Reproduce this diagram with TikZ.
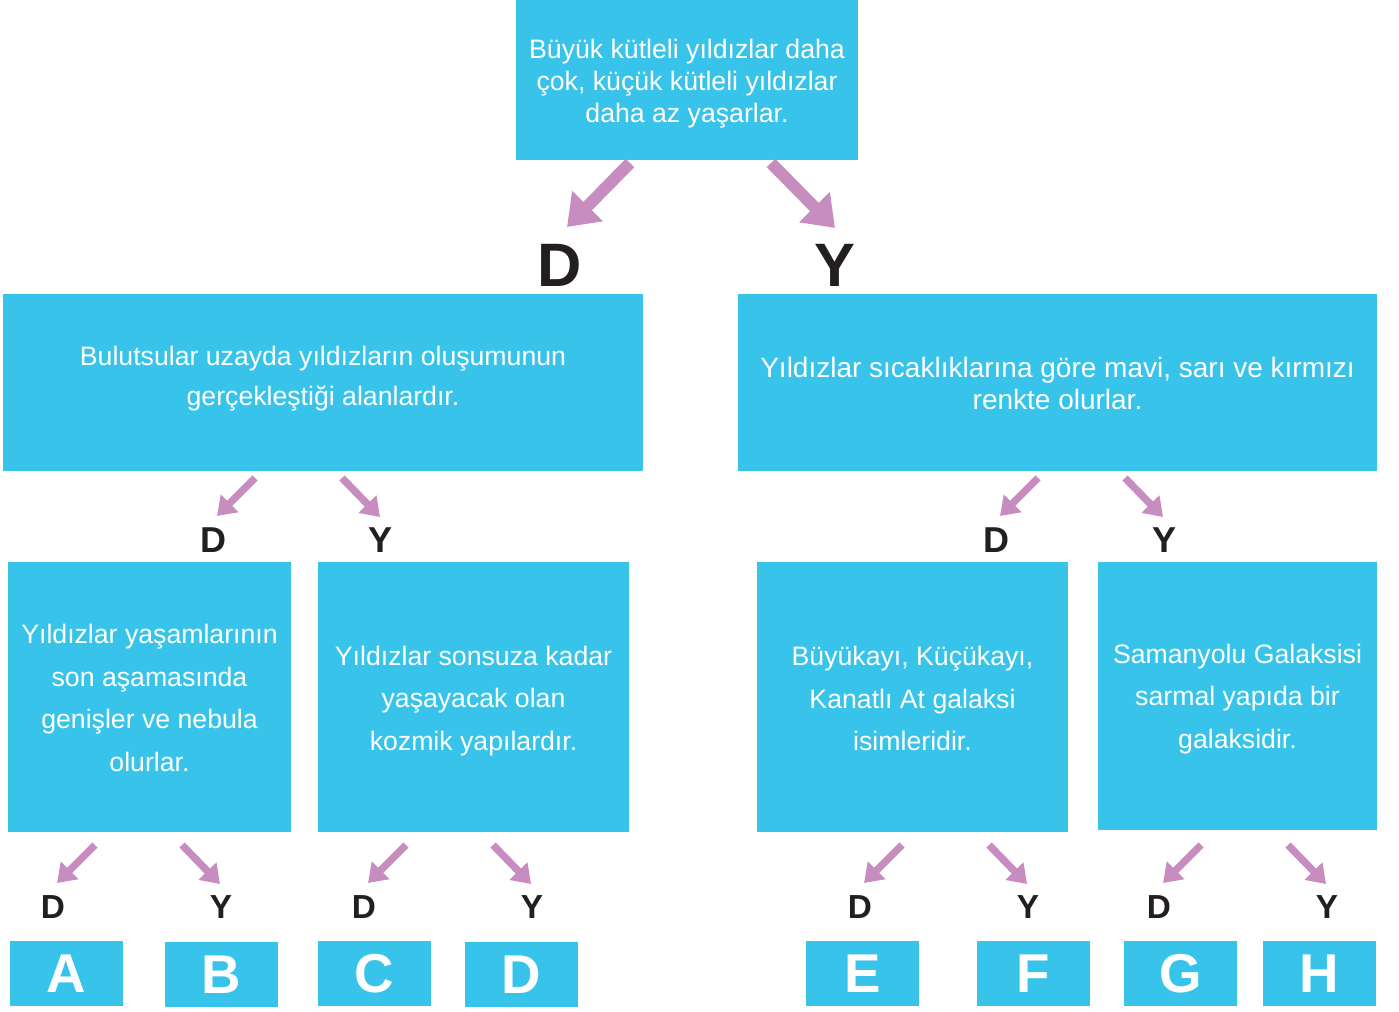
\documentclass[tikz,border=0pt]{standalone}
\usepackage{fontspec}
\setmainfont{Liberation Sans}
\usetikzlibrary{arrows.meta}

\definecolor{boxcyan}{HTML}{38C4EA}
\definecolor{arrowpink}{HTML}{C78DC0}
\definecolor{labelblack}{HTML}{231F20}

\tikzset{
  qbox/.style={rectangle, fill=boxcyan, inner sep=0pt},
  qtext/.style={text=white, inner sep=0pt, align=center, font=\fontsize{20}{24}\selectfont},
  ansbox/.style={rectangle, fill=boxcyan, text=white, inner sep=0pt, minimum width=113*0.75pt, minimum height=65*0.75pt, font=\fontsize{41}{41}\selectfont\bfseries},
  dylabel/.style={text=labelblack, inner sep=0pt},
  bigarrow/.style={draw=arrowpink, line width=9pt, -{Triangle[length=22pt,width=31pt]}},
  smallarrow/.style={draw=arrowpink, line width=5.5pt, -{Triangle[length=13.5pt,width=18pt]}}
}

\begin{document}
\begin{tikzpicture}[x=0.75pt,y=-0.75pt]
\useasboundingbox (0,0) rectangle (1399,1012);
% question boxes
\node[qbox, minimum width=342*0.75pt, minimum height=160*0.75pt] (top) at (687,80) {};
\node[qbox, minimum width=640*0.75pt, minimum height=177*0.75pt] (left) at (323,382.5) {};
\node[qbox, minimum width=639*0.75pt, minimum height=177*0.75pt] (right) at (1057.5,382.5) {};
\node[qbox, minimum width=283*0.75pt, minimum height=270*0.75pt] (leftd) at (149.5,697) {};
\node[qbox, minimum width=311*0.75pt, minimum height=270*0.75pt] (lefty) at (473.5,697) {};
\node[qbox, minimum width=311*0.75pt, minimum height=270*0.75pt] (rightd) at (912.5,697) {};
\node[qbox, minimum width=279*0.75pt, minimum height=268*0.75pt] (righty) at (1237.5,696) {};

% their texts
\node[qtext] (toptext) at (687,84) {Büyük kütleli yıldızlar daha\\çok, küçük kütleli yıldızlar\\daha az yaşarlar.};
\node[qtext, font=\fontsize{20}{30}\selectfont] (lefttext) at (323,378.5) {Bulutsular uzayda yıldızların oluşumunun\\gerçekleştiği alanlardır.};
\node[qtext, font=\fontsize{21}{24}\selectfont] (righttext) at (1057.5,383.5) {Yıldızlar sıcaklıklarına göre mavi, sarı ve kırmızı\\renkte olurlar.};
\node[qtext, font=\fontsize{20}{32}\selectfont] (leftdtext) at (149.5,698) {Yıldızlar yaşamlarının\\son aşamasında\\genişler ve nebula\\olurlar.};
\node[qtext, font=\fontsize{20}{32}\selectfont] (leftytext) at (473.5,701) {Yıldızlar sonsuza kadar\\yaşayacak olan\\kozmik yapılardır.};
\node[qtext, font=\fontsize{20}{32}\selectfont] (rightdtext) at (912.5,698.5) {Büyükayı, Küçükayı,\\Kanatlı At galaksi\\isimleridir.};
\node[qtext, font=\fontsize{20}{32}\selectfont] (rightytext) at (1237.5,699) {Samanyolu Galaksisi\\sarmal yapıda bir\\galaksidir.};

% first split
\node[dylabel, font=\fontsize{46}{46}\selectfont\bfseries] (topd) at (560,265) {D};
\node[dylabel, font=\fontsize{46}{46}\selectfont\bfseries] (topy) at (835,265) {Y};
\coordinate (stopd) at (630,163);
\coordinate (ttopd) at (567,227);
\coordinate (stopy) at (771,163);
\coordinate (ttopy) at (835,228);
\draw[bigarrow] (stopd) -- (ttopd);
\draw[bigarrow] (stopy) -- (ttopy);

% small splits
\foreach \x/\y/\s/\n in {255/478/27/l, 1038/478/27/r, 95/845/25/ld, 406/845/25/ly, 902/845/25/rd, 1201/845/25/ry}{
  \coordinate (sd\n) at (\x,\y);
  \coordinate (td\n) at (\x-38,\y+38);
  \coordinate (sy\n) at (\x+87,\y);
  \coordinate (ty\n) at (\x+125,\y+39);
  \draw[smallarrow] (sd\n) -- (td\n);
  \draw[smallarrow] (sy\n) -- (ty\n);
  \node[dylabel, font=\fontsize{\s}{\s}\selectfont\bfseries] (d\n) at (\x-42,\y+62) {D};
  \node[dylabel, font=\fontsize{\s}{\s}\selectfont\bfseries] (y\n) at (\x+126,\y+62) {Y};
}

% answers
\foreach \c/\x/\y in {A/66/973.5, B/221.5/974.5, C/374.5/973.5, D/521.5/974.5, E/862.5/973.5, F/1033.5/973.5, G/1180.5/973.5, H/1319.5/973.5}
  \node[ansbox] (ans\c) at (\x,\y) {\c};
\end{tikzpicture}
\end{document}
